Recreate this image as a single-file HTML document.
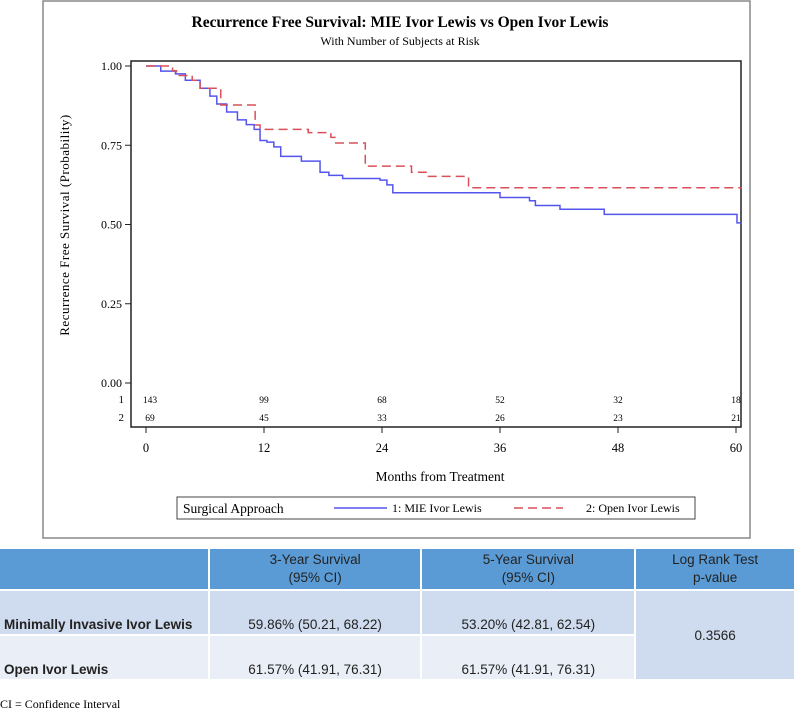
<!DOCTYPE html>
<html><head><meta charset="utf-8"><style>
body{margin:0;width:796px;height:711px;background:#fff;position:relative;overflow:hidden;font-family:"Liberation Serif",serif}
svg{position:absolute;left:0;top:0}
table{position:absolute;left:0;top:547px;border-collapse:separate;border-spacing:2px;font-family:"Liberation Sans",sans-serif;font-size:13.5px;margin-left:-2px}
td{padding:0;text-align:center;color:#222}
.h{background:#5b9bd5;height:40px;line-height:18px}
.r1{background:#cfdbee;height:41px;vertical-align:bottom;padding-bottom:2px}
.r2{background:#e9eef7;height:41px;vertical-align:bottom;padding-bottom:2px}
.lab{text-align:left;font-weight:bold;padding-left:4px}
#foot{position:absolute;left:0;top:697px;font-size:12px;font-family:"Liberation Serif",serif}
</style></head><body>
<svg id="chart" width="796" height="545">
<rect x="43" y="1" width="707" height="537" fill="#fff" stroke="#888" stroke-width="1.5"/>
<text x="400" y="27" text-anchor="middle" font-size="15.5" font-weight="bold">Recurrence Free Survival: MIE Ivor Lewis vs Open Ivor Lewis</text>
<text x="400" y="45" text-anchor="middle" font-size="12">With Number of Subjects at Risk</text>
<rect x="131" y="61" width="610" height="366" fill="none" stroke="#222" stroke-width="1.5"/>
<g id="yax"></g><g id="xax"></g><g id="curves"></g><g id="risk"></g>
<text transform="translate(69,225) rotate(-90)" text-anchor="middle" font-size="13" letter-spacing="0.5">Recurrence Free Survival (Probability)</text>
<text x="440" y="481" text-anchor="middle" font-size="13.5">Months from Treatment</text>
<g>
<rect x="177" y="497" width="518" height="22" fill="#fff" stroke="#444"/>
<text x="183" y="513" font-size="13.5">Surgical Approach</text>
<line x1="334" y1="508" x2="387" y2="508" stroke="#5555ee" stroke-width="1.5"/>
<text x="392" y="512" font-size="12">1: MIE Ivor Lewis</text>
<line x1="514" y1="508" x2="563" y2="508" stroke="#d9505a" stroke-width="1.5" stroke-dasharray="9,5"/>
<text x="586" y="512" font-size="12">2: Open Ivor Lewis</text>
</g>
</svg>
<table>
<tr><td class="h" style="width:208px"></td><td class="h" style="width:211px">3-Year Survival<br>(95% CI)</td><td class="h" style="width:212px">5-Year Survival<br>(95% CI)</td><td class="h" style="width:158px">Log Rank Test<br>p-value</td></tr>
<tr><td class="r1 lab">Minimally Invasive Ivor Lewis</td><td class="r1">59.86% (50.21, 68.22)</td><td class="r1">53.20% (42.81, 62.54)</td><td rowspan="2" style="background:#cfdbee">0.3566</td></tr>
<tr><td class="r2 lab">Open Ivor Lewis</td><td class="r2">61.57% (41.91, 76.31)</td><td class="r2">61.57% (41.91, 76.31)</td></tr>
</table>
<div id="foot">CI = Confidence Interval</div>
<script>
const yTicks=[0,0.25,0.5,0.75,1];
const xTicks=[0,12,24,36,48,60];
const mieTimes=[0,1.5,3,4,5.5,6.5,7.2,8.2,9.3,10.2,11,11.6,12.3,13,13.7,15.8,17.7,18.6,20,23.8,24.5,25.1,36,39,39.6,42.1,46.6,60.1,60.6];
const mieSurv=[1,0.984,0.975,0.955,0.93,0.905,0.88,0.855,0.83,0.815,0.8,0.765,0.76,0.745,0.715,0.70,0.665,0.655,0.645,0.64,0.625,0.60,0.585,0.575,0.56,0.548,0.532,0.505,0.505];
const openTimes=[0,2.7,3.1,4.7,5.5,7.6,11.1,11.6,16.5,18.8,19.3,22.3,27,28.6,32.8,60.6];
const openSurv=[1,0.985,0.97,0.955,0.93,0.877,0.814,0.80,0.79,0.775,0.757,0.684,0.665,0.652,0.616,0.616];
const riskMie=[143,99,68,52,32,18];
const riskOpen=[69,45,33,26,23,21];
const X=m=>146+m*(590/60), Y=p=>383-317*p;
const NS='http://www.w3.org/2000/svg';
function mk(tag,attrs,parent){const e=document.createElementNS(NS,tag);for(const k in attrs)e.setAttribute(k,attrs[k]);parent.appendChild(e);return e;}
const yax=document.getElementById('yax');
yTicks.forEach(v=>{mk('line',{x1:125,x2:131,y1:Y(v),y2:Y(v),stroke:'#222'},yax);
const t=mk('text',{x:122,y:Y(v)+4,'text-anchor':'end','font-size':12},yax);t.textContent=v.toFixed(2);

});
const xax=document.getElementById('xax');
xTicks.forEach(v=>{mk('line',{x1:X(v),x2:X(v),y1:427,y2:433,stroke:'#222'},xax);
const t=mk('text',{x:X(v),y:452,'text-anchor':'middle','font-size':12.5},xax);t.textContent=v;

});
function step(ts,ss){let d='M'+X(ts[0])+','+Y(ss[0]);for(let i=1;i<ts.length;i++){d+=' H'+X(ts[i])+' V'+Y(ss[i]);}return d;}
const cv=document.getElementById('curves');
const p1=mk('path',{d:step(mieTimes,mieSurv),fill:'none',stroke:'#5555ee','stroke-width':1.5},cv);


const p2=mk('path',{d:step(openTimes,openSurv),fill:'none',stroke:'#d9505a','stroke-width':1.5,'stroke-dasharray':'9,5'},cv);


const rk=document.getElementById('risk');
[['1',riskMie,403],['2',riskOpen,421]].forEach(([g,arr,y])=>{
const l=mk('text',{x:124,y:y,'text-anchor':'end','font-size':11},rk);l.textContent=g;
arr.forEach((n,i)=>{const t=mk('text',{x:X(xTicks[i])+(i==0?4:0),y:y,'text-anchor':'middle','font-size':9.5},rk);t.textContent=n;

});});
</script>
</body></html>
